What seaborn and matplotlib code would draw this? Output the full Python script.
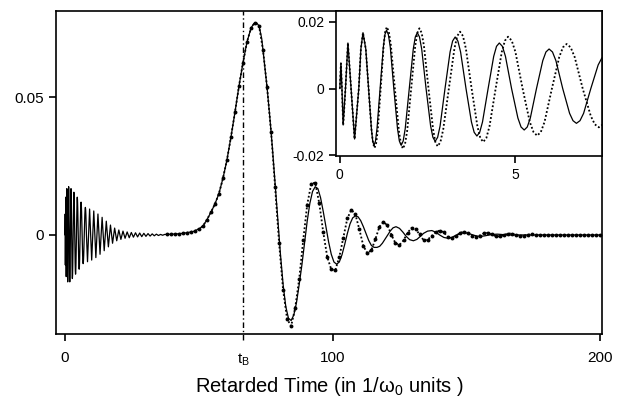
import matplotlib
matplotlib.use("Agg")
import matplotlib.pyplot as plt
import seaborn as sns
import pandas as pd

# ---------------- data ----------------
# solid curve: early chirped ringing, then the main pulse and its decaying tail
solid_t = [0, 0.03, 0.06, 0.095, 0.16, 0.23, 0.32, 0.42, 0.54, 0.60, 0.66, 0.74, 0.82,
           0.90, 0.9375, 0.975, 1.0175, 1.06, 1.15,
           1.24, 1.285, 1.33, 1.385, 1.44, 1.54,
           1.645, 1.6975, 1.75, 1.8075, 1.865, 1.98,
           2.095, 2.1525, 2.21, 2.2725, 2.335, 2.46,
           2.59, 2.655, 2.72, 2.79, 2.86, 3.0,
           3.145, 3.2175, 3.29, 3.3675, 3.445, 3.6,
           3.755, 3.8325, 3.91, 3.99, 4.07, 4.23,
           4.39, 4.47, 4.55, 4.6375, 4.725, 4.9,
           5.08, 5.17, 5.26, 5.3475, 5.435, 5.61,
           5.79, 5.88, 5.97, 6.0675, 6.165, 6.36,
           6.555, 6.6525, 6.75, 6.8525, 6.955, 7.16,
           7.37, 7.475, 7.58, 7.68, 7.78, 7.98,
           8.38, 9.16, 9.94, 10.72, 11.5, 12.28, 13.06, 13.84, 14.62, 15.4, 16.18,
           16.96, 17.74, 18.52, 19.3, 20.08, 20.86, 21.64, 22.42, 23.2, 23.98, 24.76,
           25.54, 26.32, 27.1, 27.88, 28.66, 29.44, 30.22, 31.0, 31.78, 32.56, 33.34,
           34.12, 34.9, 35.68, 36.46, 37.24, 38, 40, 42, 44, 46, 48, 50, 51.5, 53,
           54.5, 56, 57.5, 59, 60.5, 62, 63.5, 65, 66.5, 68, 69.5, 70.5, 71.5, 72.5,
           73.5, 74.5, 75.5, 76.5, 77.5, 78.5, 79.5, 80.5, 81.5, 82.5, 83.5, 84.5,
           85.5, 86.5, 87.5, 88.5, 89.5, 90.5, 91.5, 92.5, 93.5, 94.5, 95.5, 96.5,
           97.5, 98.5, 99.5, 100.5, 101.5, 102.5, 103.5, 104.5, 105.5, 106.5, 107.5,
           108.5, 109.5, 110.5, 111.5, 112.5, 113.5, 114.5, 115.5, 116.6, 117.6,
           118.6, 119.6, 120.6, 121.6, 122.6, 123.7, 125, 126.3, 127.5, 128.8, 130.2,
           131.5, 132.8, 134, 135.5, 137.1, 138.6, 140, 141.6, 143.2, 144.7, 146.3,
           148, 149.5, 151, 152.5, 154, 155.5, 157, 158.5, 160, 161.5, 163, 165, 170,
           180, 190, 200]
solid_v = [0, 0.0076, 0, -0.0109, 0, 0.0137, 0, -0.0151, 0, 0.0119, 0.0168, 0.0119, 0,
           -0.0120, -0.0157, -0.0170, -0.0157, -0.0120, 0,
           0.0124, 0.0162, 0.0175, 0.0162, 0.0124, 0,
           -0.0120, -0.0157, -0.0170, -0.0157, -0.0120, 0,
           0.0119, 0.0155, 0.0168, 0.0155, 0.0119, 0,
           -0.0112, -0.0146, -0.0158, -0.0146, -0.0112, 0,
           0.0110, 0.0143, 0.0155, 0.0143, 0.0110, 0,
           -0.0100, -0.0131, -0.0142, -0.0131, -0.0100, 0,
           0.0097, 0.0127, 0.0137, 0.0127, 0.0097, 0,
           -0.0088, -0.0115, -0.0124, -0.0115, -0.0088, 0,
           0.0084, 0.0110, 0.0119, 0.0110, 0.0084, 0,
           -0.0074, -0.0096, -0.0104, -0.0096, -0.0074, 0,
           0.0071, 0.0092, 0.0100, 0.0092, 0.0071, 0,
           -0.0097, 0.0094, -0.0091, 0.0087, -0.0082, 0.0076, -0.0070, 0.0064, -0.0057,
           0.0050, -0.0043, 0.0036, -0.0030, 0.0025, -0.0021, 0.0018, -0.0016, 0.0014,
           -0.0012, 0.0011, -0.0010, 0.0009, -0.0008, 0.0008, -0.0007, 0.0007, -0.0006,
           0.0006, -0.0005, 0.0005, -0.0004, 0.0004, -0.0003, 0.0003, -0.0002, 0.0002,
           -0.0001, 0.0002, 0.0002, 0.0003, 0.0004, 0.0006, 0.0009, 0.0013, 0.0022,
           0.0032, 0.0055, 0.0082, 0.0112, 0.0150, 0.0205, 0.0272, 0.0355, 0.0445,
           0.0540, 0.0625, 0.0700, 0.0750, 0.0766, 0.0770, 0.0758, 0.0712, 0.0625,
           0.0535, 0.0430, 0.0315, 0.0185, 0.0055, -0.0070, -0.0180, -0.0260, -0.0302,
           -0.0310, -0.0290, -0.0245, -0.0180, -0.0110, -0.0030, 0.0050, 0.0115,
           0.0158, 0.0175, 0.0168, 0.0135, 0.0085, 0.0030, -0.0025, -0.0070, -0.0098,
           -0.0106, -0.0098, -0.0072, -0.0035, 0.0005, 0.0040, 0.0062, 0.0069, 0.0066,
           0.0052, 0.0030, 0.0005, -0.0020, -0.0038, -0.0045, -0.0045, -0.0041,
           -0.0030, -0.0015, 0.0000, 0.0015, 0.0026, 0.0030, 0.0024, 0.0010, -0.0005,
           -0.0017, -0.0021, -0.0016, -0.0005, 0.0006, 0.0014, 0.0016, 0.0010, 0.0000,
           -0.0009, -0.0012, -0.0008, 0.0000, 0.0006, 0.0008, 0.0005, 0.0000, -0.0004,
           -0.0005, -0.0003, 0.0000, 0.0002, 0.0003, 0.0002, 0.0000, 0.0000, 0.0000,
           0.0000, 0.0000]

# dotted curve (sampled points, with markers) in the main panel
dotted_t = [38, 39.5, 41, 42.5, 44, 45.5, 47, 48.5, 50, 51.5, 53, 54.5, 56, 57.5, 59,
            60.5, 62, 63.5, 65, 66.5, 68, 69.5, 71, 72.5, 74, 75.5, 77, 78.5, 80, 81.5,
            83, 84.5, 86, 87.5, 89, 90.5, 92, 93.5, 95, 96.5, 98, 99.5, 101, 102.5,
            104, 105.5, 107, 108.5, 110, 111.5, 113, 114.5, 116, 117.5, 119, 120.5,
            122, 123.5, 125, 126.5, 128, 129.5, 131, 132.5, 134, 135.5, 137, 138.5,
            140, 141.5, 143, 144.5, 146, 147.5, 149, 150.5, 152, 153.5, 155, 156.5,
            158, 159.5, 161, 162.5, 164, 165.5, 167, 168.5, 170, 171.5, 173, 174.5,
            176, 177.5, 179, 180.5, 182, 183.5, 185, 186.5, 188, 189.5, 191, 192.5,
            194, 195.5, 197, 198.5, 200]
dotted_v = [0.0002, 0.0002, 0.0003, 0.0004, 0.0006, 0.0008, 0.0011, 0.0015, 0.0022,
            0.0032, 0.0055, 0.0082, 0.0112, 0.0150, 0.0205, 0.0272, 0.0355, 0.0445,
            0.0540, 0.0625, 0.0700, 0.0750, 0.0770, 0.0758, 0.0670, 0.0535, 0.0375,
            0.0175, -0.0030, -0.0200, -0.0305, -0.0330, -0.0265, -0.0160, -0.0020,
            0.0110, 0.0185, 0.0190, 0.0115, 0.0010, -0.0080, -0.0125, -0.0128, -0.0080,
            -0.0010, 0.0060, 0.0091, 0.0075, 0.0020, -0.0040, -0.0066, -0.0055,
            -0.0015, 0.0030, 0.0047, 0.0035, 0.0000, -0.0030, -0.0036, -0.0020, 0.0008,
            0.0025, 0.0022, 0.0002, -0.0019, -0.0017, -0.0004, 0.0010, 0.0016, 0.0010,
            -0.0006, -0.0012, -0.0005, 0.0007, 0.0012, 0.0006, -0.0005, -0.0008,
            -0.0002, 0.0006, 0.0008, 0.0002, -0.0004, -0.0005, 0.0000, 0.0005, 0.0005,
            0.0000, -0.0003, -0.0002, 0.0001, 0.0002, 0.0001, 0, 0, 0, 0, 0, 0, 0, 0,
            0, 0, 0, 0, 0, 0, 0, 0]

# dotted curve, early part (shown in the inset)
dotted_early_t = [0, 0.03, 0.06, 0.095, 0.16, 0.23, 0.32, 0.42, 0.54, 0.60, 0.66, 0.74,
                  0.82, 0.905, 0.9475, 0.99, 1.035, 1.08, 1.165,
                  1.25, 1.295, 1.34, 1.3975, 1.455, 1.57,
                  1.685, 1.7425, 1.80, 1.86, 1.92, 2.035,
                  2.15, 2.21, 2.27, 2.335, 2.40, 2.53,
                  2.66, 2.725, 2.79, 2.87, 2.95, 3.11,
                  3.27, 3.35, 3.43, 3.5125, 3.595, 3.76,
                  3.925, 4.0075, 4.09, 4.18, 4.27, 4.445,
                  4.62, 4.71, 4.8, 4.905, 5.01, 5.215,
                  5.42, 5.525, 5.63, 5.735, 5.84, 6.05,
                  6.26, 6.365, 6.47, 6.585, 6.70, 6.93,
                  7.16, 7.275, 7.39, 7.51, 7.63, 7.87]
dotted_early_v = [0, 0.0076, 0, -0.0109, 0, 0.0137, 0, -0.0151, 0, 0.0119, 0.0168,
                  0.0119, 0,
                  -0.0126, -0.0164, -0.0178, -0.0164, -0.0126, 0,
                  0.0131, 0.0171, 0.0185, 0.0171, 0.0131, 0,
                  -0.0127, -0.0166, -0.0180, -0.0166, -0.0127, 0,
                  0.0128, 0.0167, 0.0181, 0.0167, 0.0128, 0,
                  -0.0122, -0.0160, -0.0173, -0.0160, -0.0122, 0,
                  0.0121, 0.0158, 0.0171, 0.0158, 0.0121, 0,
                  -0.0113, -0.0148, -0.0160, -0.0148, -0.0113, 0,
                  0.0110, 0.0144, 0.0156, 0.0144, 0.0110, 0,
                  -0.0100, -0.0130, -0.0141, -0.0130, -0.0100, 0,
                  0.0095, 0.0124, 0.0134, 0.0124, 0.0095, 0,
                  -0.0082, -0.0107, -0.0116, -0.0107, -0.0082, 0]

t_B = 66.5
main_xticks = [0, t_B, 100, 200]
main_xticklabels = ["0", "t$_B$", "100", "200"]
main_yticks = [0, 0.05]
main_yticklabels = ["0", "0.05"]
inset_xticks = [0, 5]
inset_xticklabels = ["0", "5"]
inset_yticks = [-0.02, 0, 0.02]
inset_yticklabels = ["-0.02", "0", "0.02"]
xlabel = "Retarded Time (in 1/\u03c9$_0$ units )"

# ---------------- style ----------------
sns.set_style("ticks")
plt.rcParams["font.family"] = ["Liberation Sans", "DejaVu Sans"]
plt.rcParams["mathtext.fontset"] = "custom"
plt.rcParams["mathtext.rm"] = "Liberation Sans"
plt.rcParams["mathtext.it"] = "Liberation Sans:italic"
plt.rcParams["mathtext.default"] = "regular"
for key in ["text.color", "axes.labelcolor", "xtick.color", "ytick.color",
            "axes.edgecolor"]:
    plt.rcParams[key] = "black"

solid_df = pd.DataFrame({"t": solid_t, "v": solid_v})
dotted_df = pd.DataFrame({"t": dotted_t, "v": dotted_v})
dotted_early_df = pd.DataFrame({"t": dotted_early_t, "v": dotted_early_v})

fig = plt.figure(figsize=(6.2, 4.01), dpi=100)
ax = fig.add_axes([56 / 620, 1 - 334 / 401, (602 - 56) / 620, (334 - 11) / 401])

sns.lineplot(data=solid_df, x="t", y="v", ax=ax, color="black", lw=0.9,
             estimator=None, sort=False)
sns.lineplot(data=dotted_df, x="t", y="v", ax=ax, color="black", lw=1.3,
             linestyle=(0, (1, 1.2)), marker="o", markersize=2.8, markeredgewidth=0,
             estimator=None, sort=False)
ax.plot([t_B, t_B], [-0.0380, 0.0812], color="black", lw=1.0,
        linestyle=(0, (4, 2, 1, 2)), clip_on=False)

ax.set_xlim(-3.4, 200.7)
ax.set_ylim(-0.0359, 0.0812)
ax.set_xticks(main_xticks)
ax.set_xticklabels(main_xticklabels)
ax.set_yticks(main_yticks)
ax.set_yticklabels(main_yticklabels)
ax.set_xlabel(xlabel, fontsize=14.5, labelpad=5)
ax.set_ylabel("")
for s in ax.spines.values():
    s.set_visible(True)
    s.set_linewidth(1.2)
    s.set_color("black")
ax.tick_params(direction="out", length=5, width=1.2, labelsize=11, color="black",
               labelcolor="black")
ax.tick_params(axis="x", pad=7.5)
ax.tick_params(axis="y", pad=3.5)
ax.xaxis.get_major_ticks()[1].tick1line.set_visible(False)

# inset
axi = fig.add_axes([336 / 620, 1 - 156 / 401, (602 - 336) / 620, (156 - 11) / 401])
axi.set_facecolor("white")
sns.lineplot(data=solid_df, x="t", y="v", ax=axi, color="black", lw=0.9,
             estimator=None, sort=False)
sns.lineplot(data=dotted_early_df, x="t", y="v", ax=axi, color="black", lw=1.3,
             linestyle=(0, (1, 1.2)), estimator=None, sort=False)
axi.set_xlim(-0.11, 7.48)
axi.set_ylim(-0.0202, 0.0233)
axi.set_xticks(inset_xticks)
axi.set_xticklabels(inset_xticklabels)
axi.set_yticks(inset_yticks)
axi.set_yticklabels(inset_yticklabels)
axi.set_xlabel("")
axi.set_ylabel("")
for s in axi.spines.values():
    s.set_visible(True)
    s.set_linewidth(1.2)
    s.set_color("black")
axi.tick_params(direction="out", length=5, width=1.2, labelsize=10, pad=3.5,
                color="black", labelcolor="black")

fig.savefig("out.png", dpi=100)
